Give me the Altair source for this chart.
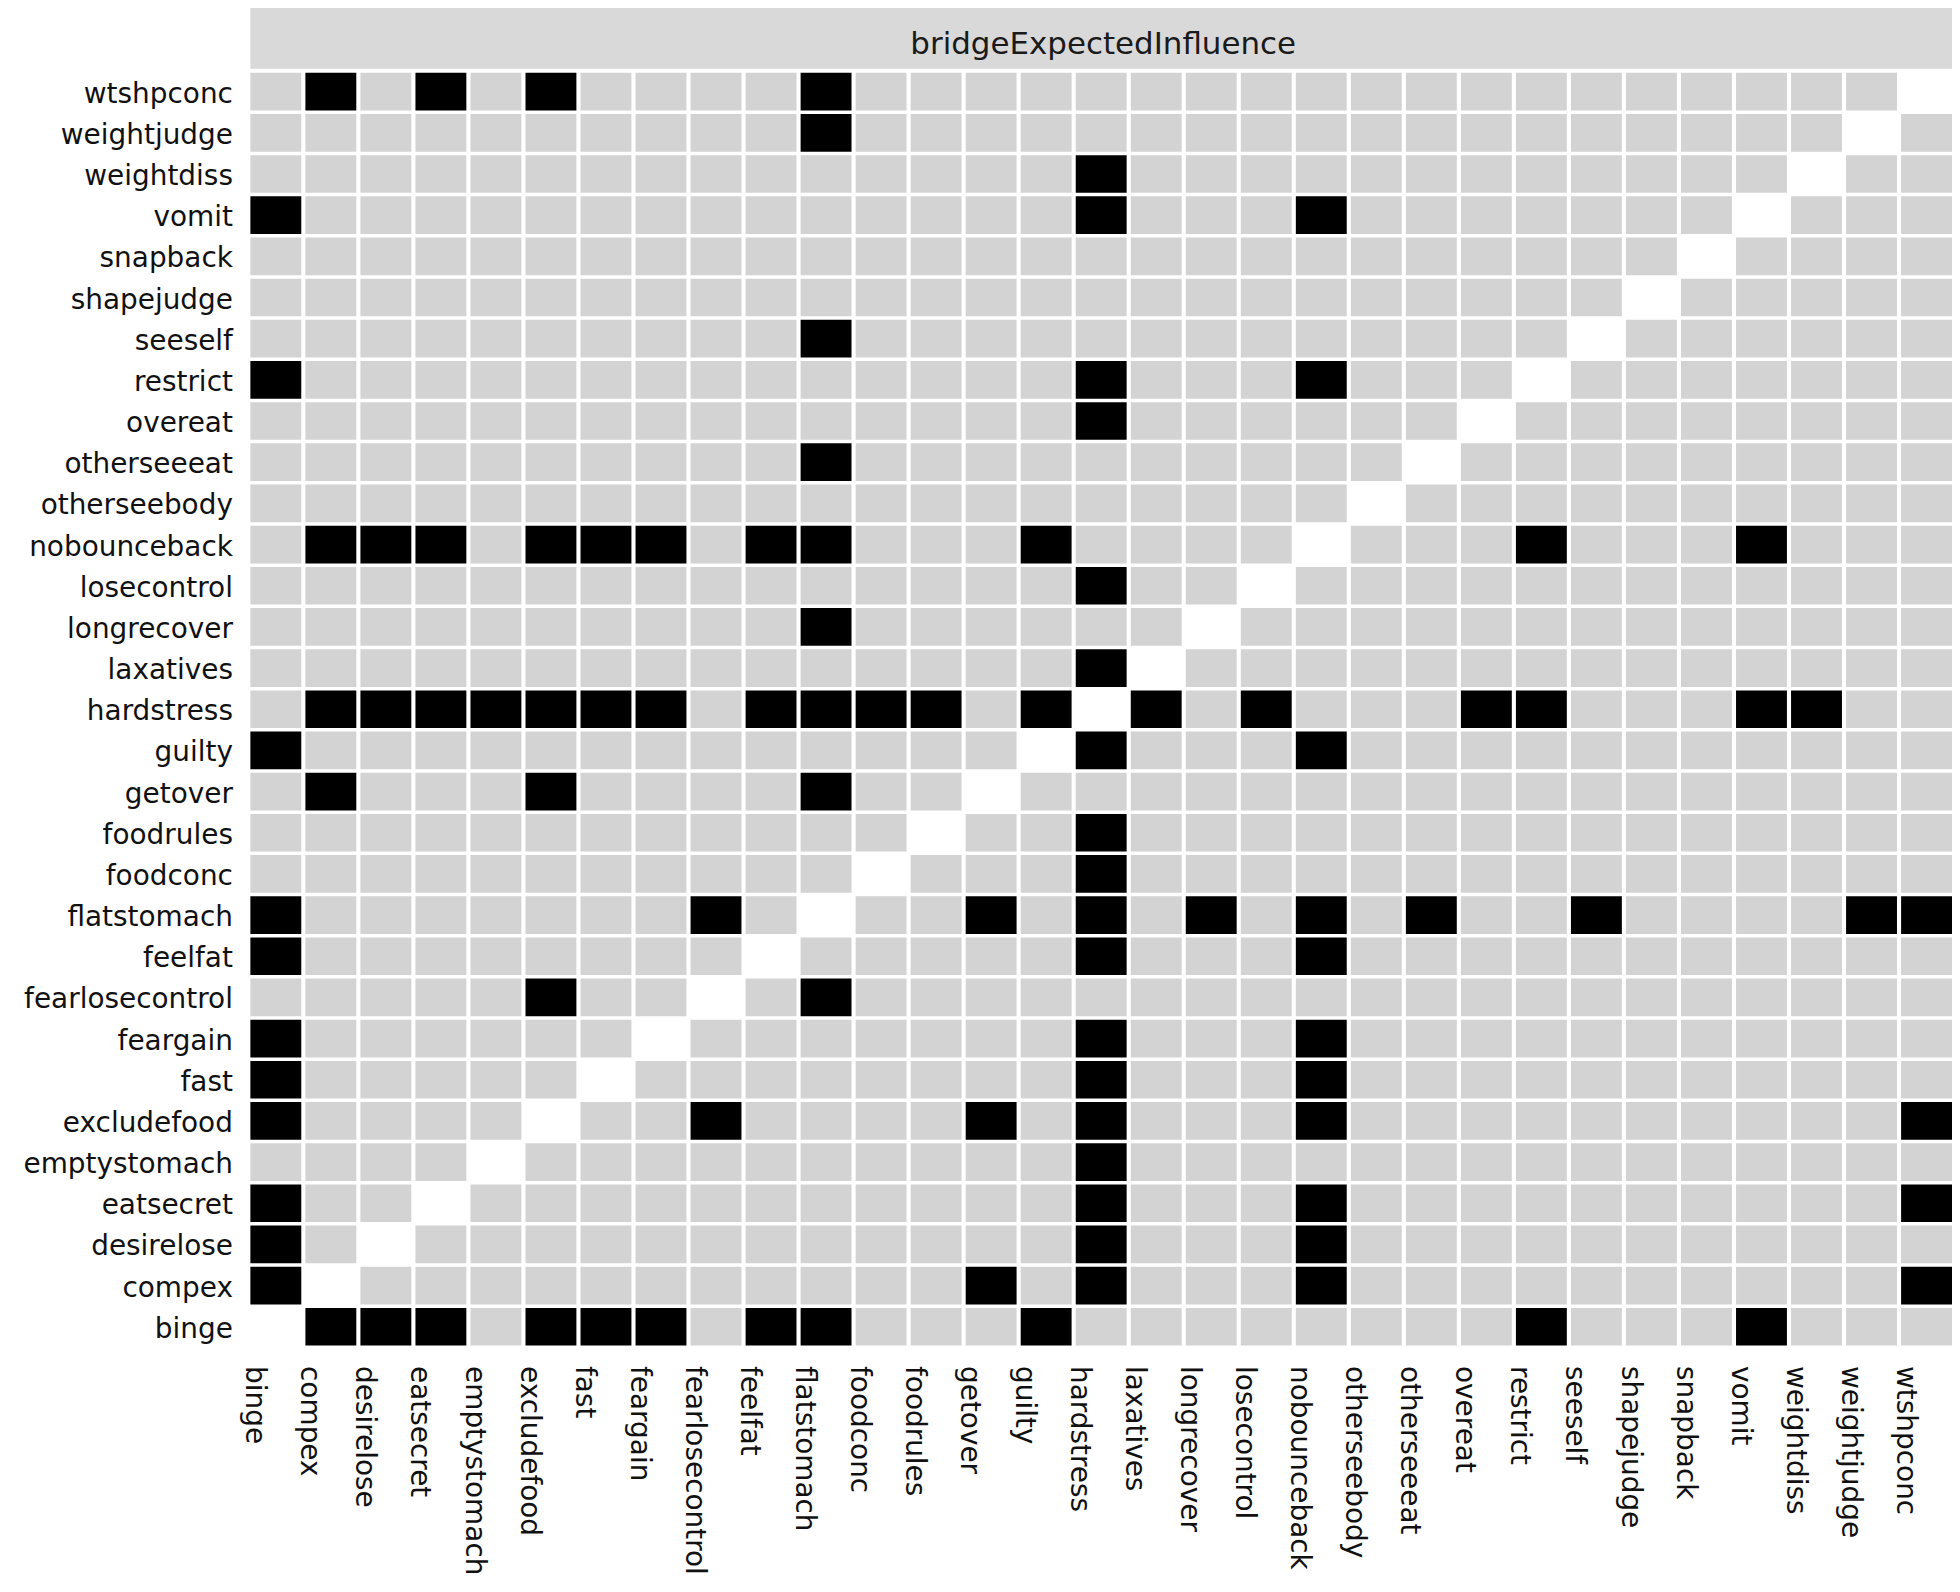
import altair as alt
import pandas as pd

# Variables (x order left->right; y order bottom->top)
variables = [
    "binge", "compex", "desirelose", "eatsecret", "emptystomach", "excludefood",
    "fast", "feargain", "fearlosecontrol", "feelfat", "flatstomach", "foodconc",
    "foodrules", "getover", "guilty", "hardstress", "laxatives", "longrecover",
    "losecontrol", "nobounceback", "otherseebody", "otherseeeat", "overeat",
    "restrict", "seeself", "shapejudge", "snapback", "vomit", "weightdiss",
    "weightjudge", "wtshpconc",
]

# Black (significantly different) cells, read row by row
black_cells = {
    "wtshpconc": ["compex", "eatsecret", "excludefood", "flatstomach"],
    "weightjudge": ["flatstomach"],
    "weightdiss": ["hardstress"],
    "vomit": ["binge", "hardstress", "nobounceback"],
    "snapback": [],
    "shapejudge": [],
    "seeself": ["flatstomach"],
    "restrict": ["binge", "hardstress", "nobounceback"],
    "overeat": ["hardstress"],
    "otherseeeat": ["flatstomach"],
    "otherseebody": [],
    "nobounceback": ["compex", "desirelose", "eatsecret", "excludefood", "fast",
                     "feargain", "feelfat", "flatstomach", "guilty", "restrict", "vomit"],
    "losecontrol": ["hardstress"],
    "longrecover": ["flatstomach"],
    "laxatives": ["hardstress"],
    "hardstress": ["compex", "desirelose", "eatsecret", "emptystomach", "excludefood",
                   "fast", "feargain", "feelfat", "flatstomach", "foodconc", "foodrules",
                   "guilty", "laxatives", "losecontrol", "overeat", "restrict", "vomit",
                   "weightdiss"],
    "guilty": ["binge", "hardstress", "nobounceback"],
    "getover": ["compex", "excludefood", "flatstomach"],
    "foodrules": ["hardstress"],
    "foodconc": ["hardstress"],
    "flatstomach": ["binge", "fearlosecontrol", "getover", "hardstress", "longrecover",
                    "nobounceback", "otherseeeat", "seeself", "weightjudge", "wtshpconc"],
    "feelfat": ["binge", "hardstress", "nobounceback"],
    "fearlosecontrol": ["excludefood", "flatstomach"],
    "feargain": ["binge", "hardstress", "nobounceback"],
    "fast": ["binge", "hardstress", "nobounceback"],
    "excludefood": ["binge", "fearlosecontrol", "getover", "hardstress", "nobounceback",
                    "wtshpconc"],
    "emptystomach": ["hardstress"],
    "eatsecret": ["binge", "hardstress", "nobounceback", "wtshpconc"],
    "desirelose": ["binge", "hardstress", "nobounceback"],
    "compex": ["binge", "getover", "hardstress", "nobounceback", "wtshpconc"],
    "binge": ["compex", "desirelose", "eatsecret", "excludefood", "fast", "feargain",
              "feelfat", "flatstomach", "guilty", "restrict", "vomit"],
}

strip_label = ["bridgeExpectedInfluence"]

rows = []
for r in variables:
    for c in variables:
        if r == c:
            continue
        rows.append({"row": r, "col": c,
                     "status": "sig" if c in black_cells[r] else "ns"})
df = pd.DataFrame(rows)

W, H = 1706, 1276
FONT = "DejaVu Sans"

heat = alt.Chart(df).mark_rect().encode(
    x=alt.X("col:N", sort=variables, title=None,
            scale=alt.Scale(paddingInner=0.075, paddingOuter=0),
            axis=alt.Axis(labelAngle=90, labelFont=FONT, labelFontSize=28,
                          labelColor="#111111", labelPadding=20, labelOffset=-22,
                          ticks=False, domain=False, labelLimit=400,
                          labelOverlap=False)),
    y=alt.Y("row:N", sort=list(reversed(variables)), title=None,
            scale=alt.Scale(paddingInner=0.085, paddingOuter=0),
            axis=alt.Axis(labelFont=FONT, labelFontSize=28, labelColor="#111111",
                          labelPadding=18, labelOffset=3, ticks=False, domain=False,
                          labelLimit=400, labelOverlap=False)),
    color=alt.Color("status:N", legend=None,
                    scale=alt.Scale(domain=["ns", "sig"],
                                    range=["#D3D3D3", "#000000"])),
)

strip_df = pd.DataFrame({"label": strip_label})
strip = alt.Chart(strip_df).mark_rect(color="#D9D9D9").encode(
    x=alt.value(0), x2=alt.value(W), y=alt.value(-69), y2=alt.value(-4)
)
strip_text = alt.Chart(strip_df).mark_text(
    font=FONT, fontSize=31, color="#1A1A1A", baseline="alphabetic", align="center"
).encode(x=alt.value(855), y=alt.value(-19), text="label:N")

chart = alt.layer(heat, strip, strip_text).properties(
    width=W, height=H,
    autosize=alt.AutoSizeParams(type="none"),
    padding={"left": 243, "top": 63, "right": 0, "bottom": 231},
    background="white",
).configure_view(stroke=None)

chart.save("out.html", embed_options={"renderer": "svg", "actions": False})
